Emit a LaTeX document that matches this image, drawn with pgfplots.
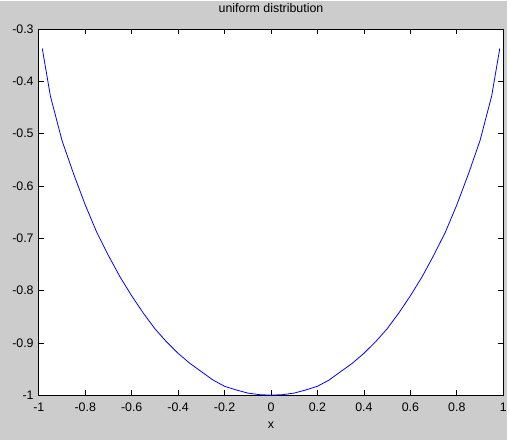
\documentclass[border=0pt]{standalone}
\usepackage{pgfplots}
\pgfplotsset{compat=1.18}
\usepackage{fontspec}
\setmainfont{Liberation Sans}
\definecolor{figgray}{RGB}{204,204,204}
\begin{document}
\begin{tikzpicture}[x=1bp,y=1bp]
  % figure background
  \fill[figgray] (0,0) rectangle (510,441);
  \begin{axis}[
    at={(39bp,45bp)}, anchor=south west,
    width=467bp, height=368bp, scale only axis,
    xmin=-1, xmax=1, ymin=-1, ymax=-0.3,
    xtick={-1,-0.8,-0.6,-0.4,-0.2,0,0.2,0.4,0.6,0.8,1},
    ytick={-1,-0.9,-0.8,-0.7,-0.6,-0.5,-0.4,-0.3},
    tick align=inside, tick pos=both,
    major tick length=5bp,
    tick style={black, line width=0.7bp},
    axis line style={black, line width=0.9bp},
    axis background/.style={fill=white},
    /pgf/number format/assume math mode=true,
    tick label style={font=\fontsize{12.5}{14}\selectfont},
    xticklabel style={anchor=base, yshift=-16bp},
    yticklabel style={anchor=east, inner sep=0pt, xshift=-5bp},
    title={uniform distribution},
    title style={at={(axis description cs:0.5,1)}, anchor=base, yshift=11bp,
      font=\fontsize{12.5}{14}\selectfont},
    xlabel={x},
    xlabel style={at={(axis description cs:0.5,0)}, anchor=base, yshift=-34bp,
      font=\fontsize{12.5}{14}\selectfont},
  ]
  \addplot[blue, line width=0.8bp, mark=none] table {
    -0.985 -0.337
    -0.95 -0.428
    -0.9 -0.513
    -0.85 -0.577
    -0.8 -0.636
    -0.75 -0.689
    -0.7 -0.733
    -0.65 -0.774
    -0.6 -0.810
    -0.55 -0.843
    -0.5 -0.873
    -0.45 -0.898
    -0.4 -0.920
    -0.35 -0.939
    -0.3 -0.955
    -0.25 -0.971
    -0.2 -0.983
    -0.15 -0.990
    -0.1 -0.996
    -0.05 -0.999
    0 -1.000
    0.05 -0.999
    0.1 -0.996
    0.15 -0.990
    0.2 -0.983
    0.25 -0.971
    0.3 -0.955
    0.35 -0.939
    0.4 -0.920
    0.45 -0.898
    0.5 -0.873
    0.55 -0.843
    0.6 -0.810
    0.65 -0.774
    0.7 -0.733
    0.75 -0.689
    0.8 -0.636
    0.85 -0.577
    0.9 -0.513
    0.95 -0.428
    0.985 -0.337
  };
  \end{axis}
\end{tikzpicture}
\end{document}
